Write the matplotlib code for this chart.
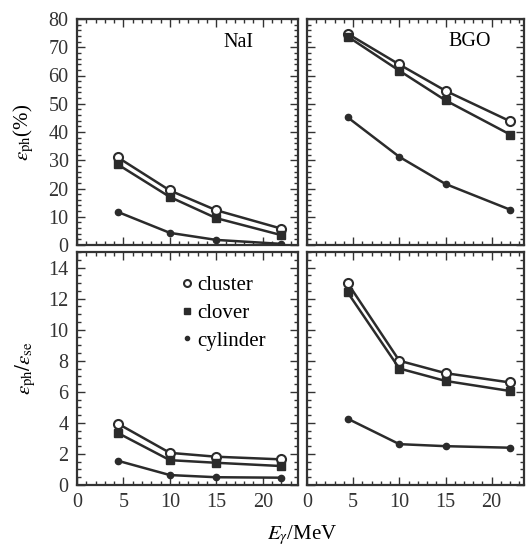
import matplotlib
matplotlib.use("Agg")
import matplotlib.pyplot as plt
from matplotlib.lines import Line2D
from matplotlib.ticker import MultipleLocator

plt.rcParams["font.family"] = ["Liberation Serif", "DejaVu Serif"]
plt.rcParams["mathtext.fontset"] = "stix"

# gamma energies (MeV)
energy = [4.4, 10, 15, 22]

# photopeak efficiency (%)
nai_cluster = [31.0, 19.3, 12.3, 5.8]
nai_clover = [28.5, 17.0, 9.5, 3.5]
nai_cylinder = [11.7, 4.3, 1.8, 0.4]
bgo_cluster = [74.8, 63.9, 54.6, 43.8]
bgo_clover = [73.8, 61.7, 51.2, 39.1]
bgo_cylinder = [45.2, 31.2, 21.6, 12.5]

# photopeak / single-escape ratio
nai_cluster_r = [3.95, 2.07, 1.82, 1.65]
nai_clover_r = [3.35, 1.6, 1.43, 1.22]
nai_cylinder_r = [1.56, 0.64, 0.5, 0.47]
bgo_cluster_r = [13.0, 8.0, 7.2, 6.6]
bgo_clover_r = [12.4, 7.5, 6.7, 6.05]
bgo_cylinder_r = [4.27, 2.63, 2.5, 2.4]

LC = "#2b2b2b"
STYLE = {
    "cluster": dict(marker="o", ms=6.5, mfc="white", mec=LC, mew=1.5),
    "clover": dict(marker="s", ms=5.5, mfc=LC, mec=LC, mew=1),
    "cylinder": dict(marker="o", ms=4.5, mfc=LC, mec=LC, mew=1),
}

W, H = 526, 546
fig = plt.figure(figsize=(W / 100, H / 100), dpi=100)


def add_ax(x0, x1, y0, y1):
    return fig.add_axes([x0 / W, 1 - y1 / H, (x1 - x0) / W, (y1 - y0) / H])


ax_tl = add_ax(77, 298, 19, 245)
ax_tr = add_ax(307, 524, 19, 245)
ax_bl = add_ax(77, 298, 252, 485)
ax_br = add_ax(307, 524, 252, 485)

panels = [
    (ax_tl, [nai_cluster, nai_clover, nai_cylinder]),
    (ax_tr, [bgo_cluster, bgo_clover, bgo_cylinder]),
    (ax_bl, [nai_cluster_r, nai_clover_r, nai_cylinder_r]),
    (ax_br, [bgo_cluster_r, bgo_clover_r, bgo_cylinder_r]),
]

for ax, series in panels:
    for name, vals in zip(["cluster", "clover", "cylinder"], series):
        ax.plot(energy, vals, color=LC, lw=1.8, zorder=3, **STYLE[name])
    ax.xaxis.set_major_locator(MultipleLocator(5))
    ax.xaxis.set_minor_locator(MultipleLocator(1))
    ax.tick_params(which="both", direction="in", top=True, right=True,
                   labelsize=14.5, width=1.0, colors="#333333")
    ax.tick_params(which="major", length=6, pad=6)
    ax.tick_params(which="minor", length=3)
    for sp in ax.spines.values():
        sp.set_linewidth(1.6)
        sp.set_color("#333333")

for ax in (ax_tl, ax_tr):
    ax.set_ylim(0, 80)
    ax.yaxis.set_major_locator(MultipleLocator(10))
    ax.yaxis.set_minor_locator(MultipleLocator(2))
    ax.tick_params(labelbottom=False)

for ax in (ax_bl, ax_br):
    ax.set_ylim(0, 15)
    ax.yaxis.set_major_locator(MultipleLocator(2))
    ax.yaxis.set_minor_locator(MultipleLocator(0.5))

ax_tl.set_xlim(0, 23.8)
ax_bl.set_xlim(0, 23.8)
ax_tr.set_xlim(0, 23.5)
ax_br.set_xlim(0, 23.5)
ax_tr.tick_params(labelleft=False)
ax_br.tick_params(labelleft=False)

ax_tl.text(0.73, 0.895, "NaI", transform=ax_tl.transAxes, ha="center",
           va="center", fontsize=14.5)
ax_tr.text(0.75, 0.90, "BGO", transform=ax_tr.transAxes, ha="center",
           va="center", fontsize=14.5)

ax_tl.set_ylabel(r"$\varepsilon_{\rm ph}$(%)", fontsize=15)
ax_tl.yaxis.set_label_coords(-0.185, 0.5)
ax_bl.set_ylabel(r"$\varepsilon_{\rm ph}/\varepsilon_{\rm se}$", fontsize=15)
ax_bl.yaxis.set_label_coords(-0.175, 0.5)

fig.text(302 / W, 1 - 535 / H, r"$E_\gamma$/MeV", ha="center", va="center",
         fontsize=15)

handles = [Line2D([], [], ls="none", color=LC, **dict(STYLE[n], ms=STYLE[n]["ms"] - 1.5))
           for n in ["cluster", "clover", "cylinder"]]
ax_bl.legend(handles, ["cluster", "clover", "cylinder"], loc="upper left",
             bbox_to_anchor=(0.48, 0.9), frameon=False, fontsize=15,
             handlelength=0.4, handletextpad=0.3, labelspacing=0.4,
             borderpad=0, borderaxespad=0)

fig.savefig("out.png", dpi=100)
